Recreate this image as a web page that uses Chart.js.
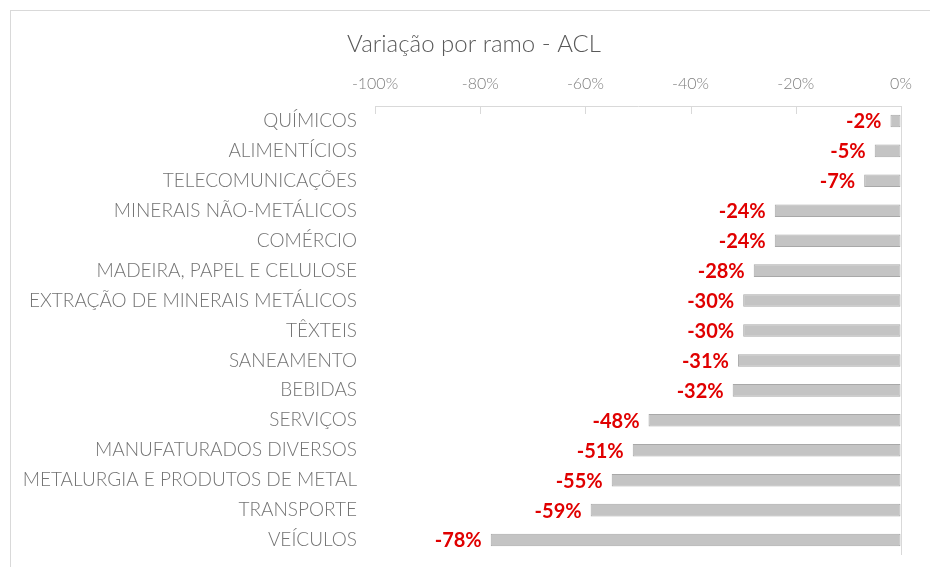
<!DOCTYPE html>
<html>
<head>
<meta charset="utf-8">
<script src="https://cdn.jsdelivr.net/npm/chart.js@4.4.1/dist/chart.umd.min.js"></script>
<style>
  html, body { margin: 0; padding: 0; background: #ffffff; }
  body { width: 930px; height: 567px; position: relative; overflow: hidden; }
  #frame { position: absolute; left: 10px; top: 10px; width: 960px; height: 600px; border: 1px solid #d9d9d9; box-sizing: border-box; }
  #wrap { position: absolute; left: 0; top: 0; width: 930px; height: 567px; }
</style>
</head>
<body>
<div id="frame"></div>
<div id="wrap"><canvas id="c" width="930" height="567"></canvas></div>
<script>
const title = 'Variação por ramo - ACL';
const categories = [
  'QUÍMICOS',
  'ALIMENTÍCIOS',
  'TELECOMUNICAÇÕES',
  'MINERAIS NÃO-METÁLICOS',
  'COMÉRCIO',
  'MADEIRA, PAPEL E CELULOSE',
  'EXTRAÇÃO DE MINERAIS METÁLICOS',
  'TÊXTEIS',
  'SANEAMENTO',
  'BEBIDAS',
  'SERVIÇOS',
  'MANUFATURADOS DIVERSOS',
  'METALURGIA E PRODUTOS DE METAL',
  'TRANSPORTE',
  'VEÍCULOS'
];
const variation = [-2, -5, -7, -24, -24, -28, -30, -30, -31, -32, -48, -51, -55, -59, -78];
const tickValues = [-100, -80, -60, -40, -20, 0];

const FONT = 'Lato, "Open Sans", "Liberation Sans", sans-serif';

const decorPlugin = {
  id: 'decor',
  afterDatasetsDraw(chart) {
    const ctx = chart.ctx;
    const xs = chart.scales.x;
    const area = chart.chartArea;
    ctx.save();
    // short grid stubs at the top of the plot
    ctx.strokeStyle = '#d9d9d9';
    ctx.lineWidth = 1;
    tickValues.forEach(v => {
      if (v === 0) return;
      const px = Math.round(xs.getPixelForValue(v)) + 0.5;
      ctx.beginPath();
      ctx.moveTo(px, area.top);
      ctx.lineTo(px, area.top + 8);
      ctx.stroke();
    });
    // data labels
    const meta = chart.getDatasetMeta(0);
    ctx.font = 'bold 20px ' + FONT;
    ctx.fillStyle = '#e00000';
    ctx.textAlign = 'right';
    ctx.textBaseline = 'middle';
    meta.data.forEach((bar, i) => {
      const v = variation[i];
      ctx.fillText(v + '%', bar.x - 9, bar.y + 1);
    });
    // title
    ctx.font = '300 24px ' + FONT;
    ctx.fillStyle = '#595959';
    ctx.textAlign = 'center';
    ctx.textBaseline = 'alphabetic';
    ctx.fillText(title, 474, 52);
    ctx.restore();
  }
};

new Chart(document.getElementById('c'), {
  type: 'bar',
  data: {
    labels: categories,
    datasets: [{
      data: variation,
      backgroundColor: '#c4c4c4',
      borderColor: '#a8a8a8',
      borderWidth: 1,
      borderSkipped: false,
      categoryPercentage: 1,
      barPercentage: 0.42
    }]
  },
  options: {
    indexAxis: 'y',
    responsive: false,
    animation: false,
    devicePixelRatio: 1,
    layout: { padding: { left: 0, right: 29, top: 0, bottom: 12 } },
    plugins: {
      legend: { display: false },
      title: { display: false },
      tooltip: { enabled: false }
    },
    scales: {
      x: {
        position: 'top',
        min: -100,
        max: 0,
        afterBuildTicks(scale) { scale.ticks = tickValues.map(v => ({ value: v })); },
        afterFit(scale) {
          scale.height = 106;
          scale.paddingLeft = 0; scale.paddingRight = 0;
          scale.paddingTop = 0; scale.paddingBottom = 0;
        },
        ticks: {
          padding: 13,
          color: '#7f7f7f',
          font: { family: FONT, size: 16, weight: '300' },
          callback: v => v + '%'
        },
        grid: {
          drawTicks: false,
          color: ctx => (ctx.tick && ctx.tick.value === 0) ? '#d9d9d9' : 'rgba(0,0,0,0)'
        },
        border: { display: true, color: '#d9d9d9' }
      },
      y: {
        afterFit(scale) {
          scale.width = 375;
          scale.paddingTop = 0; scale.paddingBottom = 0;
          scale.paddingLeft = 0; scale.paddingRight = 0;
        },
        ticks: {
          padding: 18,
          color: '#737373',
          font: { family: FONT, size: 19, weight: '300' }
        },
        grid: { display: false, drawTicks: false },
        border: { display: false }
      }
    }
  },
  plugins: [decorPlugin]
});
</script>
</body>
</html>
